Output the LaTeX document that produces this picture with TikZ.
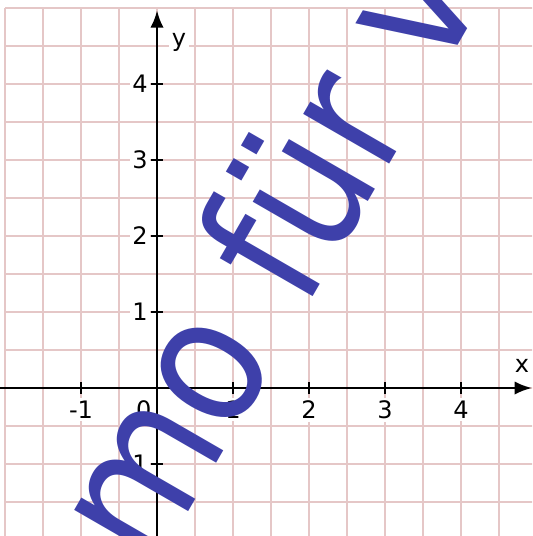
\documentclass[tikz,border=0pt]{standalone}
\usepackage{fontspec}
\setmainfont{DejaVu Sans}
\usetikzlibrary{arrows.meta}
\definecolor{gridred}{RGB}{170,70,70}
\definecolor{stampblue}{RGB}{62,64,170}

\begin{document}
\begin{tikzpicture}[
    gridline/.style={
        draw=gridred,
        opacity=0.3,
        line width=0.7pt
    },
    axis/.style={
        -{Latex[length=6.5pt,width=5pt]},
        line width=1pt
    },
    tickmark/.style={
        line width=1pt
    },
    ticklabel/.style={
        fill=white,
        inner sep=1pt,
        font=\fontsize{9}{10}\selectfont
    },
    stamp/.style={
        text=stampblue,
        inner sep=0pt,
        rotate=60,
        xscale=0.87,
        anchor=base west,
        font=\fontsize{68}{68}\selectfont
    }
]

% frame of the picture
\useasboundingbox (-2.066,-1.947) rectangle (4.934,5.105);
\clip (-2.066,-1.947) rectangle (4.934,5.105);

% GRID
\draw[gridline, step=0.5] (-2,-2.5) grid (5.5,5);

% AXES
\coordinate (xstart) at (-2.1,0);
\coordinate (xend) at (4.934,0);
\coordinate (ystart) at (0,-2);
\coordinate (yend) at (0,4.97);
\draw[axis] (xstart) -- (xend);
\draw[axis] (ystart) -- (yend);

% Ticks and numbers
\foreach \x in {-1,1,2,3,4} {
    \draw[tickmark] (\x,-0.08) -- (\x,0.08);
    \node[ticklabel, below] (xnum\x) at (\x,-0.13) {\x};
}
\foreach \y in {-1,1,2,3,4} {
    \draw[tickmark] (-0.08,\y) -- (0.08,\y);
    \node[ticklabel, left] (ynum\y) at (-0.08,\y) {\y};
}
\node[ticklabel, below left] (origin) at (-0.03,-0.13) {0};

% Axis names
\node[ticklabel] (xname) at (4.80,0.29) {x};
\node[ticklabel] (yname) at (0.29,4.55) {y};

% Watermark
\node[stamp] (watermark) at (-0.045,-2.43) {mo für v};

\end{tikzpicture}
\end{document}
